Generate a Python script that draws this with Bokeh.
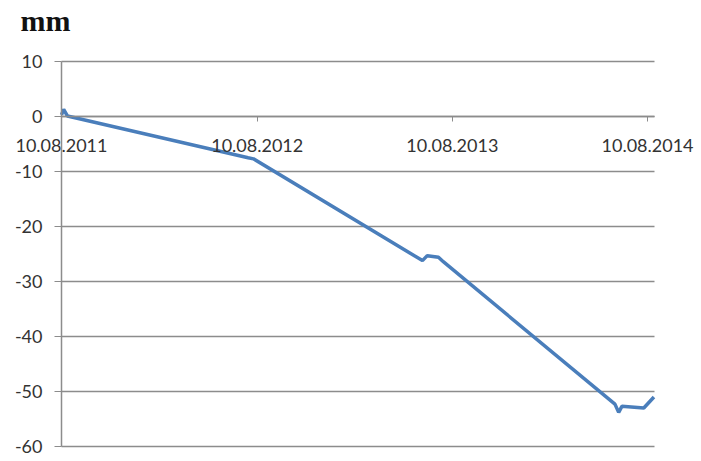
from datetime import datetime, timedelta
import pandas as pd
from bokeh.plotting import figure
from bokeh.models import (Range1d, FixedTicker, ColumnDataSource, Label,
                          DatetimeTickFormatter)
from bokeh.embed import file_html
from bokeh.resources import INLINE

# ---- data ----
dates = ["2011-08-10", "2011-08-14", "2011-08-21", "2012-07-24", "2012-08-03",
         "2013-06-15", "2013-06-24", "2013-07-15", "2013-07-24",
         "2014-06-10", "2014-06-17", "2014-06-23", "2014-08-03", "2014-08-22"]
values = [0.3, 1.3, 0.1, -7.5, -7.7,
          -26.2, -25.3, -25.6, -26.4,
          -52.3, -53.8, -52.7, -53.0, -51.0]
tick_dates = ["2011-08-10", "2012-08-10", "2013-08-10", "2014-08-10"]
y_ticks = [10, 0, -10, -20, -30, -40, -50, -60]
title_text = "mm"

x_start = pd.Timestamp("2011-08-10")
x_end = pd.Timestamp("2014-08-23")
y_min, y_max = -60, 10

src = ColumnDataSource(dict(x=pd.to_datetime(dates), y=values))
tick_ms = [pd.Timestamp(d).value / 1e6 for d in tick_dates]

# canvas / frame geometry (pixels) - the frame covers the whole canvas
W, H = 700, 458
PL, PR = 61, 654          # plot-area left / right
PT, PB = 61, 446          # plot-area top / bottom
px_day = (PR - PL) / (x_end - x_start).days
px_unit = (PB - PT) / (y_max - y_min)
xr0 = x_start - timedelta(days=PL / px_day)
xr1 = x_start + timedelta(days=(W - PL) / px_day)
yr1 = y_max + PT / px_unit
yr0 = y_max - (H - PT) / px_unit

p = figure(width=W, height=H, output_backend="svg", toolbar_location=None,
           x_axis_type="datetime",
           x_range=Range1d(xr0, xr1), y_range=Range1d(yr0, yr1),
           min_border_left=0, min_border_top=0,
           min_border_right=0, min_border_bottom=0)
p.outline_line_color = None
p.background_fill_color = "white"
p.border_fill_color = "white"

grid_col = "#8c8c8c"
label_font = "Lato"
label_size = "18px"
label_col = "#333333"

# horizontal grid lines limited to the plot area
p.segment(x0=[x_start] * len(y_ticks), x1=[x_end] * len(y_ticks),
          y0=y_ticks, y1=y_ticks, line_color=grid_col, line_width=1.5)

p.line("x", "y", source=src, line_color="#4a7ebb", line_width=3.5)

# x axis drawn at y = 0
xa = p.xaxis[0]
xa.fixed_location = 0
xa.bounds = (x_start.value / 1e6, x_end.value / 1e6)
xa.ticker = FixedTicker(ticks=tick_ms)
fmt = "%d.%m.%Y"
xa.formatter = DatetimeTickFormatter(years=fmt, months=fmt, days=fmt, hours=fmt,
                                     minutes=fmt, seconds=fmt, milliseconds=fmt,
                                     microseconds=fmt, minsec=fmt, hourmin=fmt)
xa.axis_line_color = grid_col
xa.axis_line_width = 1.5
xa.major_tick_line_color = grid_col
xa.major_tick_out = 5
xa.major_tick_in = 0
xa.minor_tick_line_color = None
xa.major_label_standoff = 17
xa.major_label_text_font = label_font
xa.major_label_text_font_size = label_size
xa.major_label_text_color = label_col

# y axis drawn at the first date
ya = p.yaxis[0]
ya.fixed_location = x_start.value / 1e6
ya.bounds = (y_min, y_max)
ya.ticker = FixedTicker(ticks=y_ticks)
ya.major_label_overrides = {v: str(v) for v in y_ticks}
ya.axis_line_color = grid_col
ya.axis_line_width = 1.5
ya.major_tick_line_color = grid_col
ya.major_tick_out = 7
ya.major_tick_in = 0
ya.minor_tick_line_color = None
ya.major_label_standoff = 12
ya.major_label_text_font = label_font
ya.major_label_text_font_size = label_size
ya.major_label_text_color = label_col

p.xgrid.grid_line_color = None
p.ygrid.grid_line_color = None

# screen y is measured from the bottom of the canvas
p.add_layout(Label(x=20, y=H - 20, x_units="screen", y_units="screen",
                   text=title_text, text_font="Liberation Serif",
                   text_font_style="bold", text_font_size="30px",
                   text_color="#111111", text_baseline="alphabetic"))

open("out.html", "w").write(file_html(p, INLINE))
